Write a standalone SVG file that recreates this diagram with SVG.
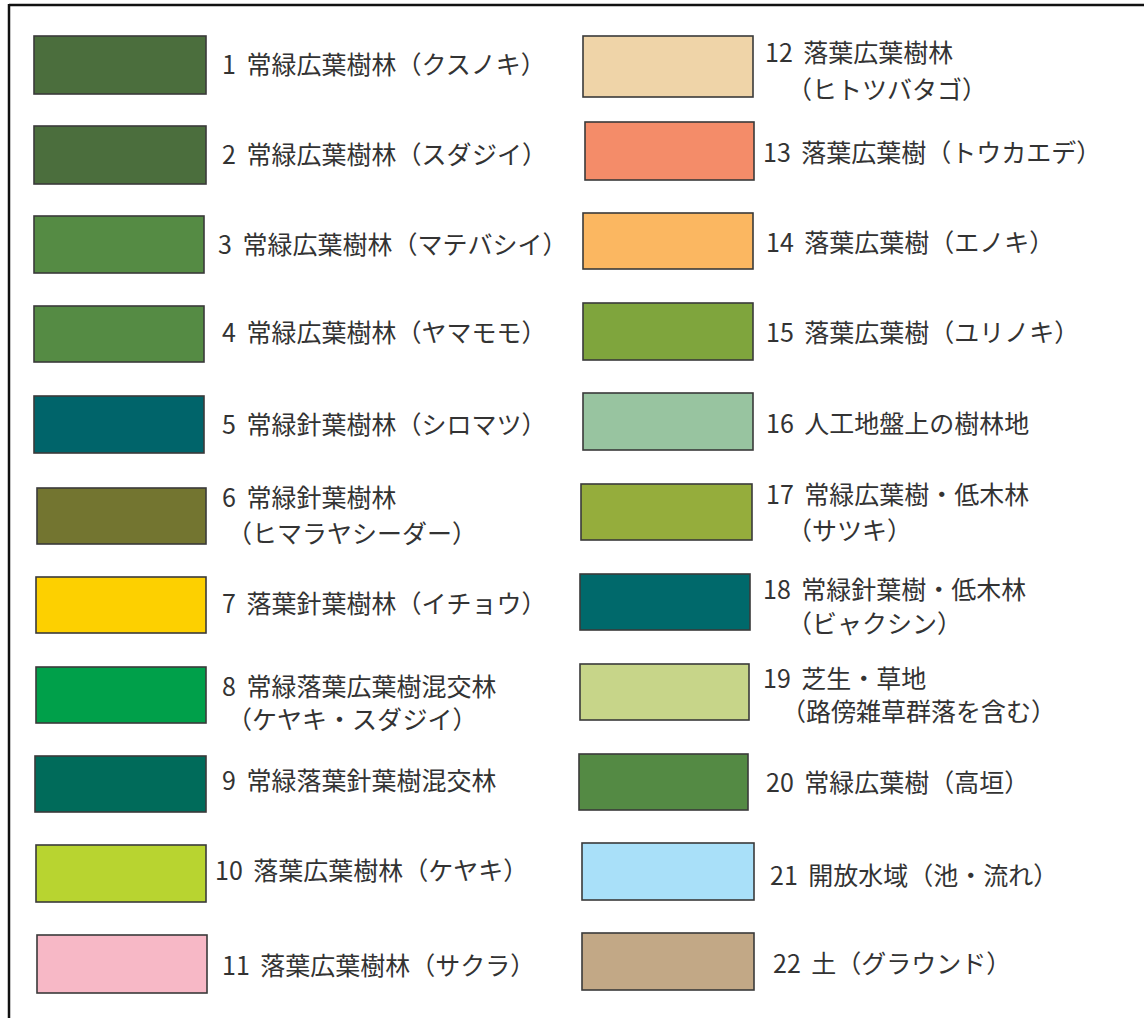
<svg xmlns="http://www.w3.org/2000/svg" width="1144" height="1018" viewBox="0 0 1144 1018">
<style>
.sw{stroke:#3a3a3a;stroke-width:1.6}
.t{font-family:"Noto Sans CJK JP","Noto Sans",sans-serif;font-size:25px;fill:#333;word-spacing:5px}
</style>
<rect width="1144" height="1018" fill="#fff"/>
<g id="frame" fill="none" stroke="#111" stroke-width="2.5">
<line x1="9" y1="5" x2="1144" y2="5"/>
<line x1="9" y1="4" x2="9" y2="1018"/>
</g>
<g id="item1"><rect class="sw" x="34" y="36" width="172" height="58" fill="#4b6e3d"/><text class="t" x="222" y="74">1 常緑広葉樹林（クスノキ）</text></g>
<g id="item2"><rect class="sw" x="34" y="126" width="172" height="58" fill="#4b6e3d"/><text class="t" x="222" y="164">2 常緑広葉樹林（スダジイ）</text></g>
<g id="item3"><rect class="sw" x="34" y="216" width="170" height="57" fill="#558b44"/><text class="t" x="218" y="254">3 常緑広葉樹林（マテバシイ）</text></g>
<g id="item4"><rect class="sw" x="34" y="306" width="170" height="56" fill="#558b44"/><text class="t" x="222" y="342">4 常緑広葉樹林（ヤマモモ）</text></g>
<g id="item5"><rect class="sw" x="34" y="396" width="170" height="57" fill="#00646a"/><text class="t" x="222" y="434">5 常緑針葉樹林（シロマツ）</text></g>
<g id="item6"><rect class="sw" x="37" y="488" width="169" height="56" fill="#737530"/><text class="t" x="222" y="507">6 常緑針葉樹林</text><text class="t" x="227" y="543">（ヒマラヤシーダー）</text></g>
<g id="item7"><rect class="sw" x="36" y="577" width="170" height="56" fill="#fdd000"/><text class="t" x="222" y="613">7 落葉針葉樹林（イチョウ）</text></g>
<g id="item8"><rect class="sw" x="36" y="667" width="170" height="56" fill="#00a04a"/><text class="t" x="222" y="696">8 常緑落葉広葉樹混交林</text><text class="t" x="227" y="729">（ケヤキ・スダジイ）</text></g>
<g id="item9"><rect class="sw" x="35" y="756" width="171" height="56" fill="#006b5a"/><text class="t" x="222" y="790">9 常緑落葉針葉樹混交林</text></g>
<g id="item10"><rect class="sw" x="36" y="845" width="170" height="57" fill="#b8d430"/><text class="t" x="215" y="880">10 落葉広葉樹林（ケヤキ）</text></g>
<g id="item11"><rect class="sw" x="37" y="935" width="170" height="58" fill="#f7b8c6"/><text class="t" x="222" y="975">11 落葉広葉樹林（サクラ）</text></g>
<g id="item12"><rect class="sw" x="583" y="36" width="170" height="61" fill="#efd4a8"/><text class="t" x="765" y="62">12 落葉広葉樹林</text><text class="t" x="787" y="99">（ヒトツバタゴ）</text></g>
<g id="item13"><rect class="sw" x="585" y="122" width="169" height="58" fill="#f48c69"/><text class="t" x="763" y="162">13 落葉広葉樹（トウカエデ）</text></g>
<g id="item14"><rect class="sw" x="583" y="213" width="170" height="56" fill="#fbb761"/><text class="t" x="766" y="252">14 落葉広葉樹（エノキ）</text></g>
<g id="item15"><rect class="sw" x="583" y="303" width="170" height="57" fill="#7fa53d"/><text class="t" x="766" y="342">15 落葉広葉樹（ユリノキ）</text></g>
<g id="item16"><rect class="sw" x="583" y="393" width="170" height="57" fill="#98c4a0"/><text class="t" x="766" y="433">16 人工地盤上の樹林地</text></g>
<g id="item17"><rect class="sw" x="581" y="484" width="171" height="56" fill="#95ad3c"/><text class="t" x="766" y="504">17 常緑広葉樹・低木林</text><text class="t" x="787" y="540">（サツキ）</text></g>
<g id="item18"><rect class="sw" x="580" y="574" width="170" height="56" fill="#00696b"/><text class="t" x="763" y="599">18 常緑針葉樹・低木林</text><text class="t" x="787" y="633">（ビャクシン）</text></g>
<g id="item19"><rect class="sw" x="580" y="664" width="169" height="56" fill="#c7d589"/><text class="t" x="763" y="688">19 芝生・草地</text><text class="t" x="781" y="721">（路傍雑草群落を含む）</text></g>
<g id="item20"><rect class="sw" x="579" y="754" width="169" height="56" fill="#548a44"/><text class="t" x="766" y="792">20 常緑広葉樹（高垣）</text></g>
<g id="item21"><rect class="sw" x="582" y="843" width="172" height="57" fill="#a9e0f9"/><text class="t" x="770" y="885">21 開放水域（池・流れ）</text></g>
<g id="item22"><rect class="sw" x="582" y="933" width="172" height="57" fill="#c2a886"/><text class="t" x="773" y="973">22 土（グラウンド）</text></g>
<g id="connectors"/>
</svg>
